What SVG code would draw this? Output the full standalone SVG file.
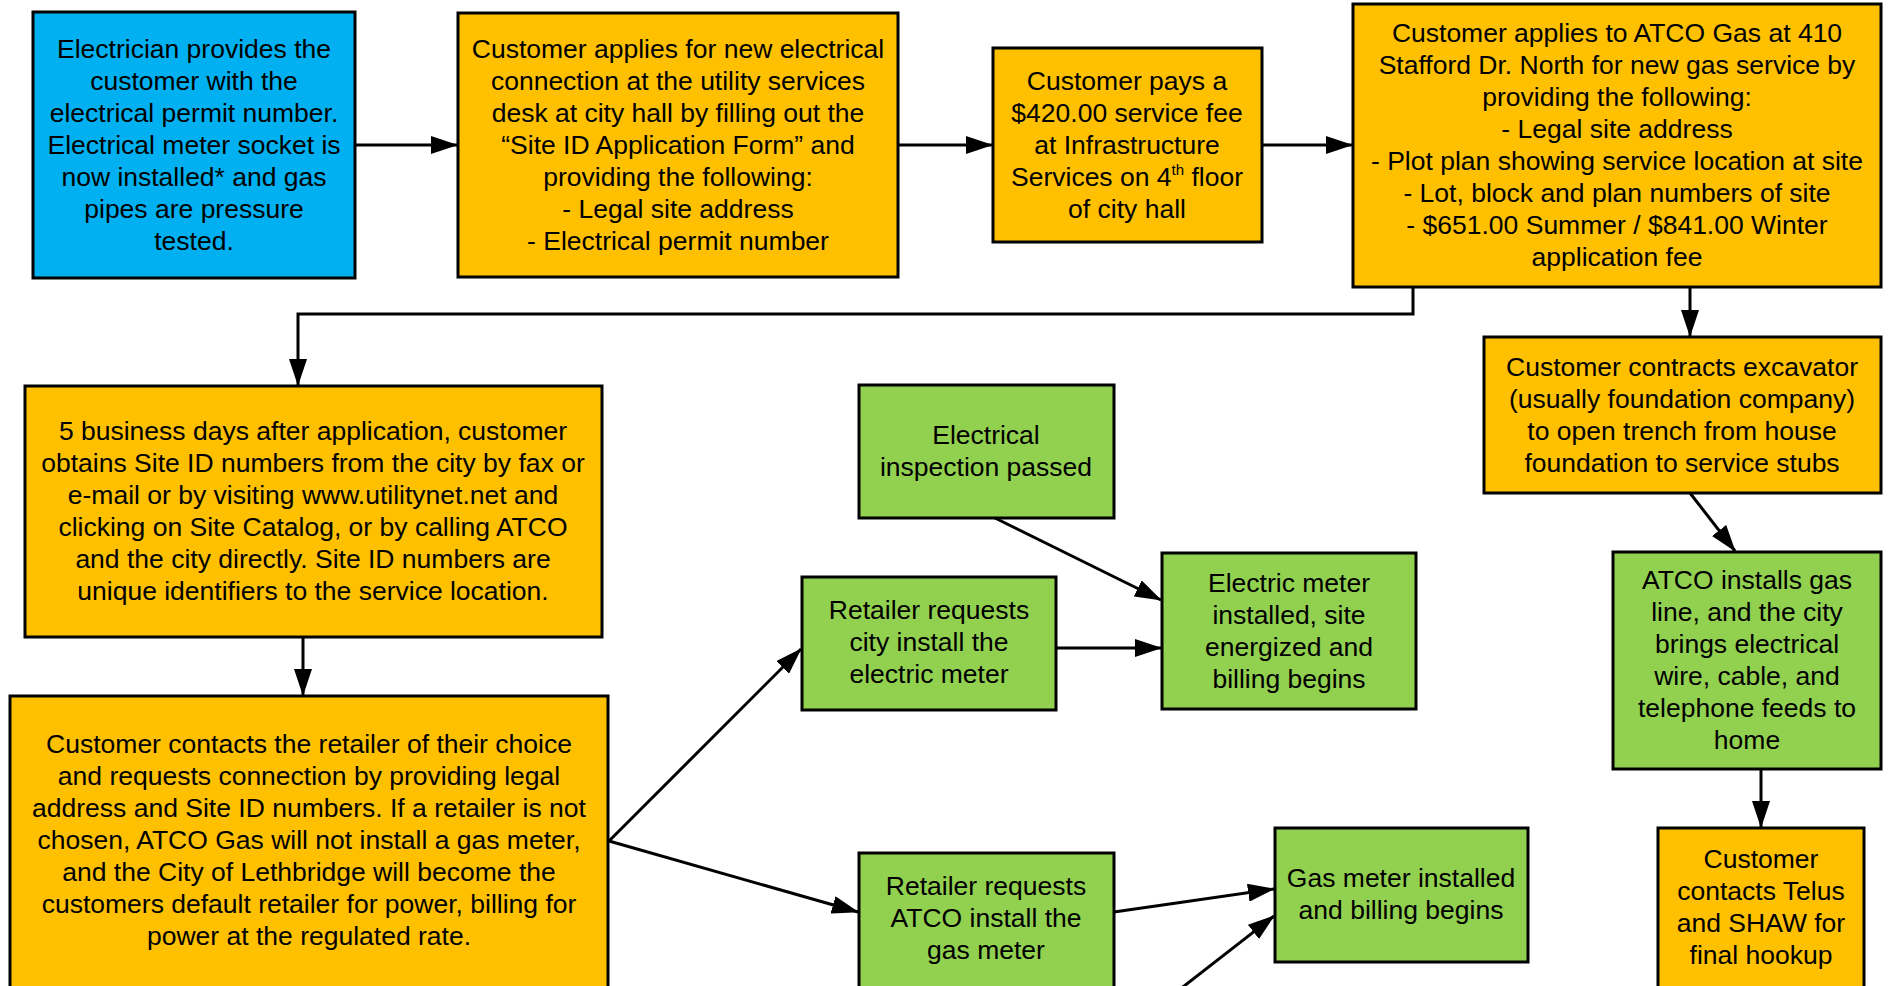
<svg xmlns="http://www.w3.org/2000/svg" width="1891" height="986" viewBox="0 0 1891 986">
<style>
.box{stroke:#000;stroke-width:3}
.blue{fill:#00B0F0}
.orange{fill:#FFC000}
.green{fill:#92D050}
text{font-family:"Liberation Sans",Arial,sans-serif;font-size:26.5px;fill:#000;text-anchor:middle}
.conn{fill:none;stroke:#000;stroke-width:3;marker-end:url(#arr)}
</style>
<defs>
<marker id="arr" markerUnits="userSpaceOnUse" markerWidth="27" markerHeight="18" refX="26" refY="9" orient="auto">
<path d="M0,0 L27,9 L0,18 z" fill="#000"/>
</marker>
</defs>
<rect width="1891" height="986" fill="#fff"/>
<g id="connectors">
<path class="conn" d="M355,145 H457"/>
<path class="conn" d="M898,145 H992"/>
<path class="conn" d="M1262,145 H1352"/>
<path class="conn" d="M1413,287 V314 H298 V385"/>
<path class="conn" d="M303,637 V695"/>
<path class="conn" d="M1690,287 V336"/>
<path class="conn" d="M1690,493 L1735,551"/>
<path class="conn" d="M1761,769 V827"/>
<path class="conn" d="M995,518 L1161,600"/>
<path class="conn" d="M1056,648 H1161"/>
<path class="conn" d="M609,841 L801,649"/>
<path class="conn" d="M609,841 L858,912"/>
<path class="conn" d="M1114,912 L1274,889"/>
<path class="conn" d="M1179,990 L1274,916"/>
</g>
<g id="n1">
<rect class="box blue" x="33" y="12" width="322" height="266"/>
<text x="194" y="58"><tspan x="194">Electrician provides the</tspan><tspan x="194" dy="32">customer with the</tspan><tspan x="194" dy="32">electrical permit number.</tspan><tspan x="194" dy="32">Electrical meter socket is</tspan><tspan x="194" dy="32">now installed* and gas</tspan><tspan x="194" dy="32">pipes are pressure</tspan><tspan x="194" dy="32">tested.</tspan></text>
</g>
<g id="n2">
<rect class="box orange" x="458" y="13" width="440" height="264"/>
<text x="678" y="58"><tspan x="678">Customer applies for new electrical</tspan><tspan x="678" dy="32">connection at the utility services</tspan><tspan x="678" dy="32">desk at city hall by filling out the</tspan><tspan x="678" dy="32">“Site ID Application Form” and</tspan><tspan x="678" dy="32">providing the following:</tspan><tspan x="678" dy="32">- Legal site address</tspan><tspan x="678" dy="32">- Electrical permit number</tspan></text>
</g>
<g id="n3">
<rect class="box orange" x="993" y="48" width="269" height="194"/>
<text x="1127" y="90"><tspan x="1127">Customer pays a</tspan><tspan x="1127" dy="32">$420.00 service fee</tspan><tspan x="1127" dy="32">at Infrastructure</tspan><tspan x="1127" dy="32">Services on 4<tspan font-size="15" dy="-11">th</tspan><tspan dy="11"> floor</tspan></tspan><tspan x="1127" dy="32">of city hall</tspan></text>
</g>
<g id="n4">
<rect class="box orange" x="1353" y="4" width="528" height="283"/>
<text x="1617" y="42"><tspan x="1617">Customer applies to ATCO Gas at 410</tspan><tspan x="1617" dy="32">Stafford Dr. North for new gas service by</tspan><tspan x="1617" dy="32">providing the following:</tspan><tspan x="1617" dy="32">- Legal site address</tspan><tspan x="1617" dy="32">- Plot plan showing service location at site</tspan><tspan x="1617" dy="32">- Lot, block and plan numbers of site</tspan><tspan x="1617" dy="32">- $651.00 Summer / $841.00 Winter</tspan><tspan x="1617" dy="32">application fee</tspan></text>
</g>
<g id="n5">
<rect class="box orange" x="25" y="386" width="577" height="251"/>
<text x="313" y="440"><tspan x="313">5 business days after application, customer</tspan><tspan x="313" dy="32">obtains Site ID numbers from the city by fax or</tspan><tspan x="313" dy="32">e-mail or by visiting www.utilitynet.net and</tspan><tspan x="313" dy="32">clicking on Site Catalog, or by calling ATCO</tspan><tspan x="313" dy="32">and the city directly. Site ID numbers are</tspan><tspan x="313" dy="32">unique identifiers to the service location.</tspan></text>
</g>
<g id="n6">
<rect class="box orange" x="10" y="696" width="598" height="300"/>
<text x="309" y="753"><tspan x="309">Customer contacts the retailer of their choice</tspan><tspan x="309" dy="32">and requests connection by providing legal</tspan><tspan x="309" dy="32">address and Site ID numbers. If a retailer is not</tspan><tspan x="309" dy="32">chosen, ATCO Gas will not install a gas meter,</tspan><tspan x="309" dy="32">and the City of Lethbridge will become the</tspan><tspan x="309" dy="32">customers default retailer for power, billing for</tspan><tspan x="309" dy="32">power at the regulated rate.</tspan></text>
</g>
<g id="n7">
<rect class="box green" x="859" y="385" width="255" height="133"/>
<text x="986" y="444"><tspan x="986">Electrical</tspan><tspan x="986" dy="32">inspection passed</tspan></text>
</g>
<g id="n8">
<rect class="box green" x="802" y="577" width="254" height="133"/>
<text x="929" y="619"><tspan x="929">Retailer requests</tspan><tspan x="929" dy="32">city install the</tspan><tspan x="929" dy="32">electric meter</tspan></text>
</g>
<g id="n9">
<rect class="box green" x="1162" y="553" width="254" height="156"/>
<text x="1289" y="592"><tspan x="1289">Electric meter</tspan><tspan x="1289" dy="32">installed, site</tspan><tspan x="1289" dy="32">energized and</tspan><tspan x="1289" dy="32">billing begins</tspan></text>
</g>
<g id="n10">
<rect class="box orange" x="1484" y="337" width="397" height="156"/>
<text x="1682" y="376"><tspan x="1682">Customer contracts excavator</tspan><tspan x="1682" dy="32">(usually foundation company)</tspan><tspan x="1682" dy="32">to open trench from house</tspan><tspan x="1682" dy="32">foundation to service stubs</tspan></text>
</g>
<g id="n11">
<rect class="box green" x="1613" y="552" width="268" height="217"/>
<text x="1747" y="589"><tspan x="1747">ATCO installs gas</tspan><tspan x="1747" dy="32">line, and the city</tspan><tspan x="1747" dy="32">brings electrical</tspan><tspan x="1747" dy="32">wire, cable, and</tspan><tspan x="1747" dy="32">telephone feeds to</tspan><tspan x="1747" dy="32">home</tspan></text>
</g>
<g id="n12">
<rect class="box orange" x="1658" y="828" width="206" height="168"/>
<text x="1761" y="868"><tspan x="1761">Customer</tspan><tspan x="1761" dy="32">contacts Telus</tspan><tspan x="1761" dy="32">and SHAW for</tspan><tspan x="1761" dy="32">final hookup</tspan></text>
</g>
<g id="n13">
<rect class="box green" x="859" y="853" width="255" height="143"/>
<text x="986" y="895"><tspan x="986">Retailer requests</tspan><tspan x="986" dy="32">ATCO install the</tspan><tspan x="986" dy="32">gas meter</tspan></text>
</g>
<g id="n14">
<rect class="box green" x="1275" y="828" width="253" height="134"/>
<text x="1401" y="887"><tspan x="1401">Gas meter installed</tspan><tspan x="1401" dy="32">and billing begins</tspan></text>
</g>
</svg>
